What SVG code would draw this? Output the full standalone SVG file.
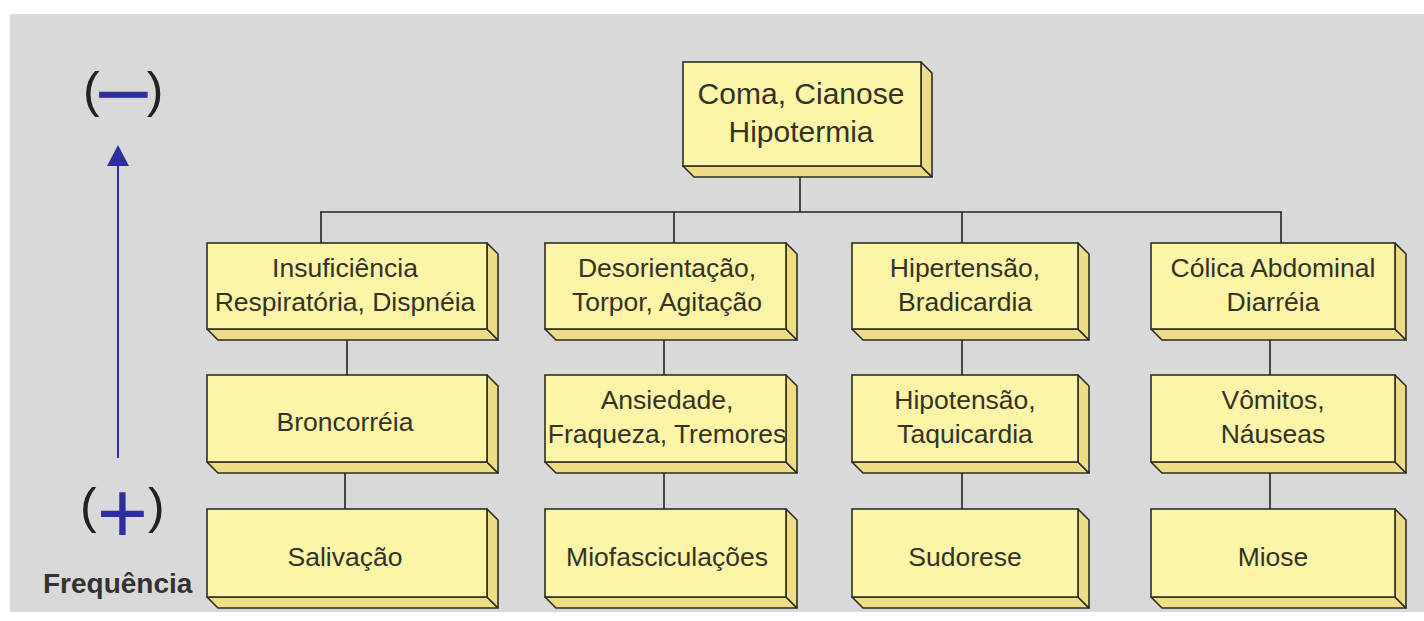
<svg xmlns="http://www.w3.org/2000/svg" width="1424" height="621" viewBox="0 0 1424 621">
<style>
.front{fill:#fcf4a6;stroke:#2d2d22;stroke-width:1.6}
.side{fill:#efdd86;stroke:#2d2d22;stroke-width:1.6;stroke-linejoin:round}
.lbl{font-family:"Liberation Sans",Arial,sans-serif;font-size:26.5px;fill:#333326;text-anchor:middle}
.top{font-size:30px}
.conn line{stroke:#222;stroke-width:1.6}
.par{font-family:"Liberation Sans",Arial,sans-serif;font-size:50px;fill:#222}
.dash{font-family:"Liberation Sans",Arial,sans-serif;font-size:47px;font-weight:bold;fill:#2e2e9c;stroke:#2e2e9c;stroke-width:1.5}
.plus{font-family:"Liberation Sans",Arial,sans-serif;font-size:88px;fill:#2e2e9c}
.freq{font-family:"Liberation Sans",Arial,sans-serif;font-size:28px;font-weight:bold;fill:#333}
</style>
<rect x="0" y="0" width="1424" height="621" fill="#ffffff"/>
<rect x="10" y="14" width="1414" height="598" fill="#d9d9d9"/>

<g id="scale">
<text class="par" x="83" y="107">(<tspan class="dash">—</tspan>)</text>
<line x1="118" y1="458" x2="118" y2="164" stroke="#2e2e9c" stroke-width="2"/>
<polygon points="118,145 107,166 129,166" fill="#2e2e9c"/>
<text class="par" x="80" y="523">(<tspan class="plus" y="543">+</tspan><tspan y="523">)</tspan></text>
<text class="freq" x="43" y="593">Frequência</text>
</g>

<g class="conn" id="connectors">
<line x1="800" y1="177" x2="800" y2="212"/>
<line x1="320" y1="212" x2="1282" y2="212"/>
<line x1="321" y1="212" x2="321" y2="243"/>
<line x1="674" y1="212" x2="674" y2="243"/>
<line x1="962" y1="212" x2="962" y2="243"/>
<line x1="1281" y1="212" x2="1281" y2="243"/>
<line x1="347" y1="340" x2="347" y2="375"/>
<line x1="345" y1="473" x2="345" y2="509"/>
<line x1="664" y1="340" x2="664" y2="375"/>
<line x1="664" y1="473" x2="664" y2="509"/>
<line x1="962" y1="340" x2="962" y2="375"/>
<line x1="962" y1="473" x2="962" y2="509"/>
<line x1="1270" y1="340" x2="1270" y2="375"/>
<line x1="1270" y1="473" x2="1270" y2="509"/>
</g>

<g id="n-coma">
<polygon class="side" points="683,166 921,166 932,177 694,177"/>
<polygon class="side" points="921,62 932,73 932,177 921,166"/>
<rect class="front" x="683" y="62" width="238" height="104"/>
<text class="lbl top" x="801" y="104">Coma, Cianose</text>
<text class="lbl top" x="801" y="142">Hipotermia</text>
</g>

<g id="n-insuf">
<polygon class="side" points="207,329 487,329 498,340 218,340"/>
<polygon class="side" points="487,243 498,254 498,340 487,329"/>
<rect class="front" x="207" y="243" width="280" height="86"/>
<text class="lbl" x="345" y="277">Insuficiência</text>
<text class="lbl" x="345" y="311">Respiratória, Dispnéia</text>
</g>
<g id="n-desor">
<polygon class="side" points="545,329 786,329 797,340 556,340"/>
<polygon class="side" points="786,243 797,254 797,340 786,329"/>
<rect class="front" x="545" y="243" width="241" height="86"/>
<text class="lbl" x="667" y="277">Desorientação,</text>
<text class="lbl" x="667" y="311">Torpor, Agitação</text>
</g>
<g id="n-hiper">
<polygon class="side" points="852,329 1078,329 1089,340 863,340"/>
<polygon class="side" points="1078,243 1089,254 1089,340 1078,329"/>
<rect class="front" x="852" y="243" width="226" height="86"/>
<text class="lbl" x="965" y="277">Hipertensão,</text>
<text class="lbl" x="965" y="311">Bradicardia</text>
</g>
<g id="n-colica">
<polygon class="side" points="1151,329 1395,329 1406,340 1162,340"/>
<polygon class="side" points="1395,243 1406,254 1406,340 1395,329"/>
<rect class="front" x="1151" y="243" width="244" height="86"/>
<text class="lbl" x="1273" y="277">Cólica Abdominal</text>
<text class="lbl" x="1273" y="311">Diarréia</text>
</g>

<g id="n-bronc">
<polygon class="side" points="207,462 487,462 498,473 218,473"/>
<polygon class="side" points="487,375 498,386 498,473 487,462"/>
<rect class="front" x="207" y="375" width="280" height="87"/>
<text class="lbl" x="345" y="431">Broncorréia</text>
</g>
<g id="n-ansied">
<polygon class="side" points="545,462 786,462 797,473 556,473"/>
<polygon class="side" points="786,375 797,386 797,473 786,462"/>
<rect class="front" x="545" y="375" width="241" height="87"/>
<text class="lbl" x="667" y="409">Ansiedade,</text>
<text class="lbl" x="667" y="443">Fraqueza, Tremores</text>
</g>
<g id="n-hipot">
<polygon class="side" points="852,462 1078,462 1089,473 863,473"/>
<polygon class="side" points="1078,375 1089,386 1089,473 1078,462"/>
<rect class="front" x="852" y="375" width="226" height="87"/>
<text class="lbl" x="965" y="409">Hipotensão,</text>
<text class="lbl" x="965" y="443">Taquicardia</text>
</g>
<g id="n-vomit">
<polygon class="side" points="1151,462 1395,462 1406,473 1162,473"/>
<polygon class="side" points="1395,375 1406,386 1406,473 1395,462"/>
<rect class="front" x="1151" y="375" width="244" height="87"/>
<text class="lbl" x="1273" y="409">Vômitos,</text>
<text class="lbl" x="1273" y="443">Náuseas</text>
</g>

<g id="n-saliv">
<polygon class="side" points="207,597 487,597 498,608 218,608"/>
<polygon class="side" points="487,509 498,520 498,608 487,597"/>
<rect class="front" x="207" y="509" width="280" height="88"/>
<text class="lbl" x="345" y="566">Salivação</text>
</g>
<g id="n-miofas">
<polygon class="side" points="545,597 786,597 797,608 556,608"/>
<polygon class="side" points="786,509 797,520 797,608 786,597"/>
<rect class="front" x="545" y="509" width="241" height="88"/>
<text class="lbl" x="667" y="566">Miofasciculações</text>
</g>
<g id="n-sudor">
<polygon class="side" points="852,597 1078,597 1089,608 863,608"/>
<polygon class="side" points="1078,509 1089,520 1089,608 1078,597"/>
<rect class="front" x="852" y="509" width="226" height="88"/>
<text class="lbl" x="965" y="566">Sudorese</text>
</g>
<g id="n-miose">
<polygon class="side" points="1151,597 1395,597 1406,608 1162,608"/>
<polygon class="side" points="1395,509 1406,520 1406,608 1395,597"/>
<rect class="front" x="1151" y="509" width="244" height="88"/>
<text class="lbl" x="1273" y="566">Miose</text>
</g>
</svg>
